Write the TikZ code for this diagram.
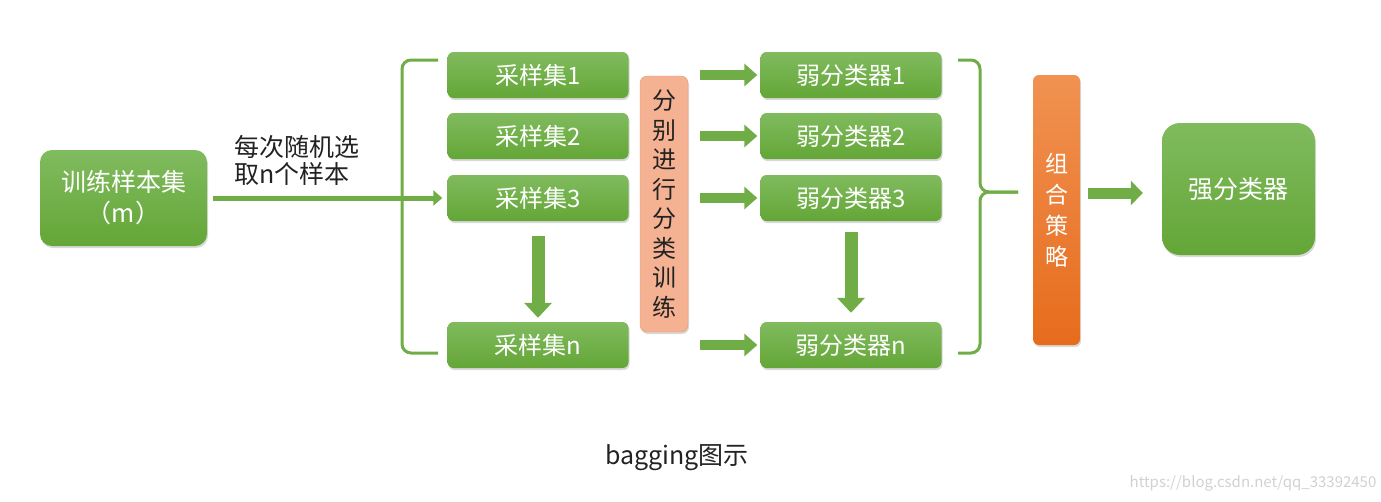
\documentclass[tikz,border=0pt]{standalone}
\usepackage{fontspec}
\setmainfont{Noto Sans CJK SC}
\usetikzlibrary{positioning,arrows.meta,shadows,calc}
\definecolor{leafgreen}{RGB}{112,173,71}
\definecolor{leaftop}{RGB}{128,187,94}
\definecolor{leafbot}{RGB}{100,166,55}
\definecolor{salmon}{RGB}{245,178,146}
\definecolor{salmonline}{RGB}{236,150,110}
\definecolor{orangetop}{RGB}{241,146,82}
\definecolor{orangebot}{RGB}{230,108,28}
\definecolor{inkgray}{RGB}{34,34,34}

\tikzset{
  softshadow/.style={drop shadow={shadow xshift=1pt, shadow yshift=-2pt, opacity=0.3}},
  greenbox/.style={top color=leaftop, bottom color=leafbot, rounded corners=6pt,
    minimum width=181pt, minimum height=46pt, inner sep=0pt, text=white,
    font=\fontsize{24pt}{28pt}\selectfont, softshadow},
  blockarrow/.style={leafgreen, line width=10pt, -{Triangle[length=13pt,width=22pt]}},
  fatarrow/.style={leafgreen, line width=13pt, -{Triangle[length=15pt,width=27pt]}},
  bracket/.style={leafgreen, line width=3pt, rounded corners=9pt},
}

\begin{document}
\begin{tikzpicture}[x=1pt, y=-1pt]
\useasboundingbox (0,0) rectangle (1381,501);

% training set and sampling
\node[greenbox, minimum width=167pt, minimum height=96pt, rounded corners=12pt,
  align=center, font=\fontsize{25pt}{31pt}\selectfont] (train) at (123.5,198) {训练样本集\\（m）};
\node[align=left, text=inkgray, font=\fontsize{25pt}{27pt}\selectfont] (pick) at (297,160) {每次随机选\\取n个样本};

\node[greenbox] (s1) at (538,75) {采样集1};
\node[greenbox] (s2) at (538,136) {采样集2};
\node[greenbox] (s3) at (538,198) {采样集3};
\node[greenbox] (sn) at (538,345) {采样集n};

\node[draw=salmonline, fill=salmon, rounded corners=7pt, minimum width=48pt, minimum height=256pt,
  inner sep=0pt, align=center, text=inkgray, font=\fontsize{24pt}{29.5pt}\selectfont, softshadow]
  (fen) at (664,204) {分\\别\\进\\行\\分\\类\\训\\练};

% weak classifiers
\node[greenbox] (w1) at (851,75) {弱分类器1};
\node[greenbox] (w2) at (851,136) {弱分类器2};
\node[greenbox] (w3) at (851,198) {弱分类器3};
\node[greenbox] (wn) at (851,345) {弱分类器n};

\node[top color=orangetop, bottom color=orangebot, rounded corners=6pt, minimum width=47pt,
  minimum height=270pt, inner sep=0pt, align=center, text=white,
  font=\fontsize{23pt}{31pt}\selectfont, softshadow] (comb) at (1056.5,210) {组\\合\\策\\略};

\node[greenbox, minimum width=153pt, minimum height=132pt, rounded corners=18pt,
  font=\fontsize{25pt}{28pt}\selectfont] (strong) at (1238.5,189) {强分类器};

% arrows
\draw[leafgreen, line width=5pt, -{Triangle[length=9pt,width=15pt]}]
  ([xshift=6pt]train.east) -- ([xshift=-5pt]s3.west);
\draw[fatarrow] ([yshift=-15pt]s3.south) -- ([yshift=4pt]sn.north);
\draw[fatarrow] ([yshift=-11pt]w3.south) -- ([yshift=9pt]wn.north);
\foreach \w in {w1,w2,w3,wn}
  \draw[blockarrow] ($(fen.east |- \w.west)+(12,0)$) -- ([xshift=-3pt]\w.west);
\draw[leafgreen, line width=11pt, -{Triangle[length=12pt,width=24pt]}]
  ($(comb.east |- strong.west)+(8,4)$) -- ($(strong.west)+(-19,4)$);

% brackets
\draw[bracket] (438,60) -- (402,60) -- (402,353) -- (438,353);
\draw[bracket] (958,60) -- (980,60) -- (980,192) -- (1018,192);
\draw[bracket] (1018,192) -- (980,192) -- (980,353) -- (958,353);

\node[text=inkgray, font=\fontsize{25pt}{28pt}\selectfont] (caption) at (677,458) {bagging图示};
\node[text=black!18, font=\fontsize{15pt}{18pt}\selectfont] (mark) at (1253,483) {https://blog.csdn.net/qq\_33392450};
\end{tikzpicture}
\end{document}
